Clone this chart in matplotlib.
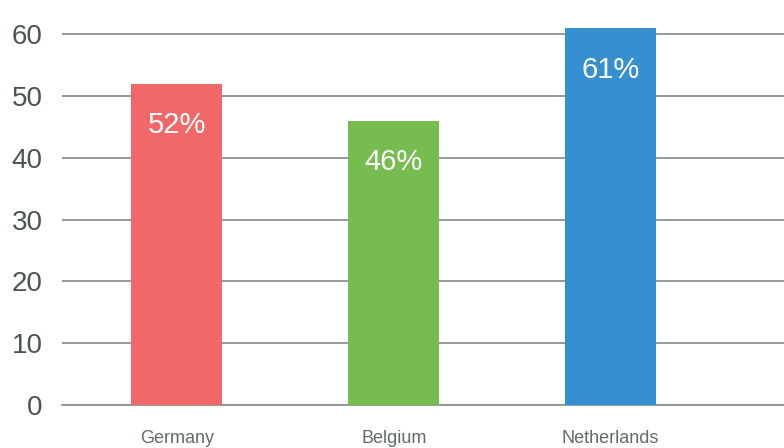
import matplotlib.pyplot as plt

countries = ['Germany', 'Belgium', 'Netherlands']
values = [52, 46, 61]
labels = ['52%', '46%', '61%']
colors = ['#F06867', '#77BC4F', '#358FD0']
yticks = [0, 10, 20, 30, 40, 50, 60]

plt.rcParams['font.family'] = ['Liberation Sans', 'DejaVu Sans']

fig = plt.figure(figsize=(7.84, 4.48), dpi=100)
ax = fig.add_axes([0.079, 0.096, 0.921, 0.8967])

x = range(len(countries))
ax.bar(x, values, width=0.42, color=colors, zorder=3)

for xi, v, lab in zip(x, values, labels):
    ax.annotate(lab, (xi, v), xytext=(0, -30), textcoords='offset points',
                ha='center', va='center', color='white', fontsize=21, zorder=4)

ax.set_xlim(-0.53, 2.80)
ax.set_ylim(0, 65)
ax.set_yticks(yticks)
ax.set_yticklabels([str(t) for t in yticks], fontsize=20, color='#4a5550')
ax.set_xticks(list(x))
ax.set_xticklabels(countries, fontsize=13, color='#606b68')
ax.tick_params(axis='y', length=0, pad=14)
ax.tick_params(axis='x', length=0, pad=18)

ax.grid(axis='y', color='#8a9290', linewidth=1.3, zorder=0)
for s in ['top', 'right', 'left']:
    ax.spines[s].set_visible(False)
ax.spines['bottom'].set_color('#8a9290')
ax.spines['bottom'].set_linewidth(1.3)
ax.spines['bottom'].set_zorder(2)

plt.savefig('out.png', dpi=100)
